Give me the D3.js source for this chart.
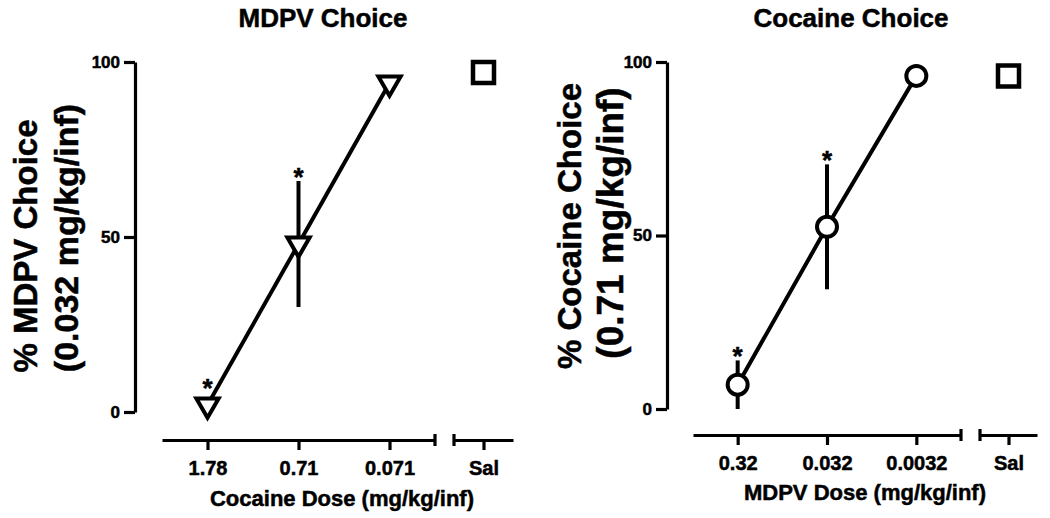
<!DOCTYPE html>
<html>
<head>
<meta charset="utf-8">
<script src="https://cdn.jsdelivr.net/npm/d3@7"></script>
<style>
  body { margin: 0; background: #fff; }
  svg { display: block; }
  text { font-family: "Liberation Sans", Arial, sans-serif; font-weight: bold; fill: #000; stroke: #000; stroke-width: 0.5px; }
</style>
</head>
<body>
<div id="chart"></div>
<script>
// left panel: MDPV choice vs cocaine dose
const cocaineDoses = ["1.78", "0.71", "0.071"];
const mdpvChoiceMean = [2, 48, 94];
const mdpvChoiceSem = [0, 18, 0];
const mdpvChoiceSig = [true, true, false];
const mdpvSalineMean = 97;

// right panel: cocaine choice vs MDPV dose
const mdpvDoses = ["0.32", "0.032", "0.0032"];
const cocaineChoiceMean = [7, 52.5, 96];
const cocaineChoiceSem = [7, 18, 0];
const cocaineChoiceSig = [true, true, false];
const cocaineSalineMean = 96;

const salineLabel = ["Sal"];
const yTicks = [0, 50, 100];

const width = 1050, height = 518;

const svg = d3.select("#chart")
  .append("svg")
  .attr("width", width)
  .attr("height", height);

function drawPanel(p) {
  const g = svg.append("g");

  const y = d3.scaleLinear().domain([0, 100]).range([p.y0, p.y100]);
  const x = d3.scalePoint().domain(p.doses).range(p.mainRange).padding(0.5);
  const xs = d3.scalePoint().domain(salineLabel).range(p.salRange).padding(0.5);

  // y axis
  const ya = g.append("g")
    .attr("transform", `translate(${p.yAxisX},0)`)
    .call(d3.axisLeft(y).tickValues(yTicks).tickSize(11).tickSizeOuter(0).tickPadding(4));
  ya.attr("font-size", null).attr("font-family", null);
  ya.selectAll("path, line").attr("stroke", "#000").attr("stroke-width", 3.2);
  ya.selectAll("text").style("font-size", "17px").attr("fill", "#000");

  // x axis, main part and saline part
  [x, xs].forEach(sc => {
    const xa = g.append("g")
      .attr("transform", `translate(0,${p.xAxisY})`)
      .call(d3.axisBottom(sc).tickSize(10).tickSizeOuter(0).tickPadding(11));
    xa.attr("font-size", null).attr("font-family", null);
    xa.selectAll("path, line").attr("stroke", "#000").attr("stroke-width", 3.2);
    xa.selectAll("text").style("font-size", "20px").attr("fill", "#000");
  });
  // break caps
  [p.mainRange[1], p.salRange[0]].forEach(cx => {
    g.append("line")
      .attr("x1", cx).attr("x2", cx)
      .attr("y1", p.xAxisY - 6).attr("y2", p.xAxisY + 6)
      .attr("stroke", "#000").attr("stroke-width", 3.2);
  });

  // error bars
  p.doses.forEach((d, i) => {
    if (p.sem[i] > 0) {
      g.append("line")
        .attr("x1", x(d)).attr("x2", x(d))
        .attr("y1", y(p.mean[i] - p.sem[i])).attr("y2", y(p.mean[i] + p.sem[i]))
        .attr("stroke", "#000").attr("stroke-width", 4);
    }
  });

  // connecting line
  const line = d3.line().x((d, i) => x(p.doses[i])).y(d => y(d));
  g.append("path")
    .datum(p.mean)
    .attr("d", line)
    .attr("fill", "none")
    .attr("stroke", "#000")
    .attr("stroke-width", 4);

  // markers
  p.doses.forEach((d, i) => {
    if (p.marker === "triangle") {
      g.append("path")
        .attr("d", d3.symbol().type(d3.symbolTriangle).size(215)())
        .attr("transform", `translate(${x(d)},${y(p.mean[i])}) rotate(180)`)
        .attr("fill", "#fff").attr("stroke", "#000").attr("stroke-width", 4);
    } else {
      g.append("circle")
        .attr("cx", x(d)).attr("cy", y(p.mean[i])).attr("r", 10)
        .attr("fill", "#fff").attr("stroke", "#000").attr("stroke-width", 4);
    }
  });

  // saline square
  g.append("path")
    .attr("d", d3.symbol().type(d3.symbolSquare).size(21 * 21)())
    .attr("transform", `translate(${xs("Sal")},${y(p.salMean)})`)
    .attr("fill", "#fff").attr("stroke", "#000").attr("stroke-width", 4.5);

  // significance asterisks
  p.doses.forEach((d, i) => {
    if (!p.sig[i]) return;
    const top = Math.min(y(p.mean[i] + p.sem[i]), y(p.mean[i]) - 13) - 10;
    g.append("text")
      .attr("x", x(d)).attr("y", top + 15)
      .attr("text-anchor", "middle")
      .style("font-size", "26px")
      .text("*");
  });

  // titles
  g.append("text")
    .attr("x", p.titleX).attr("y", 27)
    .attr("text-anchor", "middle")
    .style("font-size", "26px")
    .text(p.title);

  g.append("text")
    .attr("x", p.xTitleX).attr("y", p.xTitleY)
    .attr("text-anchor", "middle")
    .style("font-size", "22px")
    .text(p.xTitle);

  p.yTitle.forEach((t, k) => {
    g.append("text")
      .attr("transform", `translate(${p.yTitleX[k]},${p.yTitleY[k]}) rotate(-90)`)
      .attr("text-anchor", "middle")
      .style("font-size", p.yTitleSize[k] + "px")
      .text(t);
  });
}

drawPanel({
  doses: cocaineDoses, mean: mdpvChoiceMean, sem: mdpvChoiceSem, sig: mdpvChoiceSig,
  salMean: mdpvSalineMean, marker: "triangle",
  yAxisX: 135, y0: 412, y100: 62,
  xAxisY: 440, mainRange: [162, 435], salRange: [454, 513],
  title: "MDPV Choice", titleX: 323,
  xTitle: "Cocaine Dose (mg/kg/inf)", xTitleX: 342, xTitleY: 506,
  yTitle: ["% MDPV Choice", "(0.032 mg/kg/inf)"], yTitleX: [37, 78], yTitleY: [246, 238],
  yTitleSize: [33, 34]
});

drawPanel({
  doses: mdpvDoses, mean: cocaineChoiceMean, sem: cocaineChoiceSem, sig: cocaineChoiceSig,
  salMean: cocaineSalineMean, marker: "circle",
  yAxisX: 667, y0: 409, y100: 62,
  xAxisY: 435, mainRange: [693, 961], salRange: [980, 1037],
  title: "Cocaine Choice", titleX: 851,
  xTitle: "MDPV Dose (mg/kg/inf)", xTitleX: 865, xTitleY: 500,
  yTitle: ["% Cocaine Choice", "(0.71 mg/kg/inf)"], yTitleX: [581, 623], yTitleY: [226, 223],
  yTitleSize: [33, 37]
});
</script>
</body>
</html>
